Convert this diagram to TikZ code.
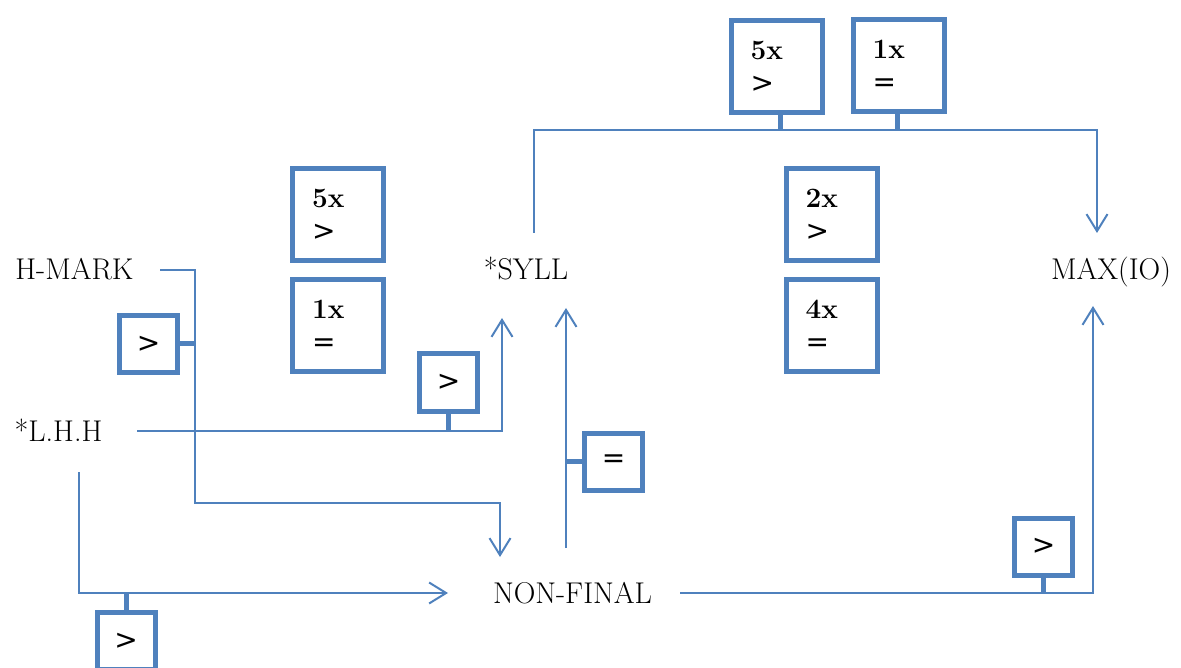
\documentclass[tikz,border=0pt]{standalone}
\usepackage{fontspec}
\newfontfamily\symfont{DejaVu Sans}
\usetikzlibrary{arrows.meta}
\definecolor{ink}{HTML}{4F81BD}
\tikzset{
  lbl/.style={inner sep=0pt, text height=20pt, text depth=0pt, anchor=center,
    font=\fontsize{30}{34}\selectfont},
  conn/.style={draw=ink, line width=2pt,
    -{Straight Barb[length=17pt,width=21pt,line width=2pt]}},
  tab/.style={draw=ink, line width=5pt},
  rel/.style={draw=ink, line width=5pt, fill=white, inner sep=0pt,
    minimum width=58pt, minimum height=57pt,
    font=\symfont\fontsize{28}{33}\selectfont},
  tally/.style={draw=ink, line width=5pt, fill=white, inner xsep=19.5pt,
    inner ysep=0pt, text width=52pt, minimum height=92pt, align=left,
    font=\fontsize{28}{33}\selectfont},
}
\newcommand{\tl}[2]{{\bfseries #1}\\{\symfont #2}}
\begin{document}
\begin{tikzpicture}[x=1pt,y=-1pt]
\useasboundingbox (0,0) rectangle (1181,668);
\clip (0,0) rectangle (1181,668);

% constraint names
\node[lbl] (hmark)    at (74.5,270) {H-MARK};
\node[lbl] (lhh)      at (58.5,431) {*L.H.H};
\node[lbl] (syll)     at (526,270)  {*SYLL};
\node[lbl] (maxio)    at (1111,270) {MAX(IO)};
\node[lbl] (nonfinal) at (572.5,593) {NON-FINAL};

% ranking connectors
\coordinate (hmx) at (195,503);
\coordinate (topbar) at (815,130);
\coordinate (nfup) at ([xshift=-6.5pt,yshift=45pt]nonfinal.center);

\draw[conn] ([xshift=85.5pt]hmark.center) -| (hmx)
  -| ([xshift=-72.5pt,yshift=36pt]nonfinal.center);
\draw[conn] ([xshift=78.5pt]lhh.center)
  -| ([xshift=-24pt,yshift=-48pt]syll.center);
\draw[conn] ([xshift=20.5pt,yshift=-41pt]lhh.center)
  |- ([xshift=-124.5pt]nonfinal.center);
\draw[conn] (nfup) -- ([xshift=40pt,yshift=-38pt]syll.center);
\draw[conn] ([xshift=8pt,yshift=37pt]syll.center) |- (topbar)
  -| ([xshift=-14pt,yshift=37pt]maxio.center);
\draw[conn] ([xshift=107.5pt]nonfinal.center)
  -| ([xshift=-18pt,yshift=-36pt]maxio.center);

% relation boxes on the connectors
\node[rel] (r1) at (148.5,344)  {>};
\node[rel] (r2) at (448.5,382.5) {>};
\node[rel] (r3) at (126,641)    {>};
\node[rel] (r4) at (613.5,461.5) {=};
\node[rel] (r5) at (1043.5,546.5) {>};

\draw[tab] (r1.east) -- (r1.east -| hmx);
\draw[tab] (r2.south) -- (r2.south |- lhh.center);
\draw[tab] (r3.north) -- (r3.north |- nonfinal.center);
\draw[tab] (r4.west) -- (r4.west -| nfup);
\draw[tab] (r5.south) -- (r5.south |- nonfinal.center);

% tallies
\node[tally] (t1) at (776.5,66.5) {\tl{5x}{>}};
\node[tally] (t2) at (898.5,66)   {\tl{1x}{=}};
\draw[tab] ([xshift=3.5pt]t1.south) -- ([xshift=3.5pt]t1.south |- topbar);
\draw[tab] ([xshift=-1.5pt]t2.south) -- ([xshift=-1.5pt]t2.south |- topbar);

\node[tally] (t3) at (338,214.5)   {\tl{5x}{>}};
\node[tally] (t4) at (338,325.5)   {\tl{1x}{=}};
\node[tally] (t5) at (831.5,214.5) {\tl{2x}{>}};
\node[tally] (t6) at (831.5,325.5) {\tl{4x}{=}};
\end{tikzpicture}
\end{document}
